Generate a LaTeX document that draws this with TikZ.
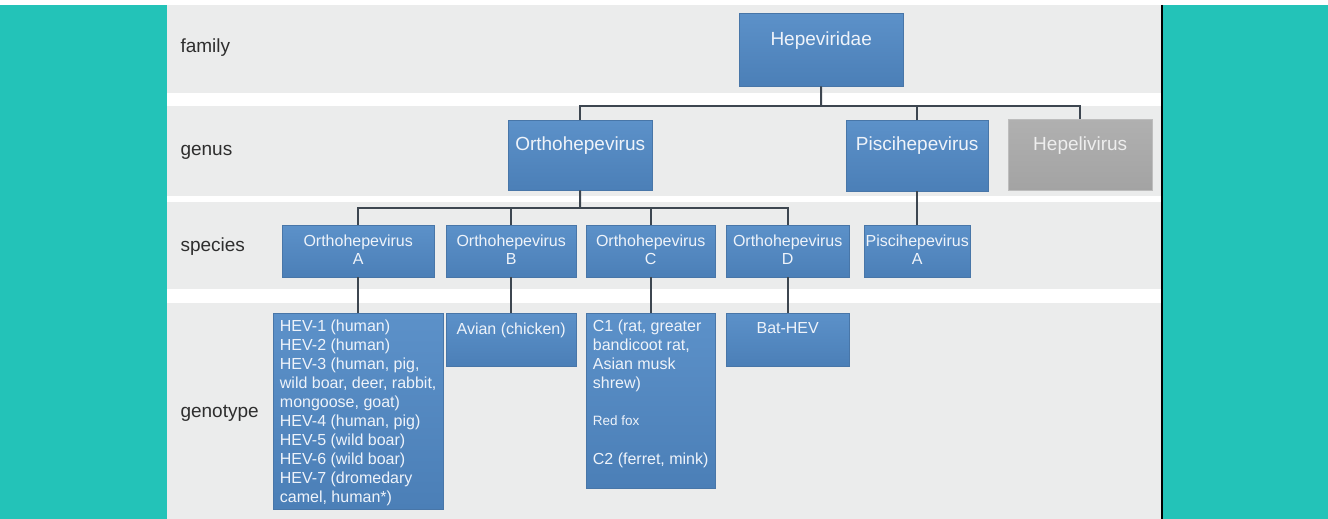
\documentclass[tikz,border=0pt]{standalone}
\usepackage{fontspec}
\setmainfont{Liberation Sans}
\usetikzlibrary{positioning}
\definecolor{TealSide}{HTML}{23C3B8}
\definecolor{BandGray}{HTML}{EBECEC}
\definecolor{BoxTop}{HTML}{5C91C9}
\definecolor{BoxBottom}{HTML}{4B7FB7}
\definecolor{BoxEdge}{HTML}{4876A8}
\definecolor{BoxText}{HTML}{EEF3FA}
\definecolor{GreyTop}{HTML}{B0B0B0}
\definecolor{GreyBottom}{HTML}{A3A3A3}
\definecolor{GreyEdge}{HTML}{BDBDBD}
\definecolor{GreyText}{HTML}{EEEEEE}
\definecolor{LinkGray}{HTML}{3D4650}
\definecolor{RankText}{HTML}{2E2E2E}

\begin{document}
\begin{tikzpicture}[x=1pt, y=-1pt,
  taxon/.style={draw=BoxEdge, top color=BoxTop, bottom color=BoxBottom, text=BoxText,
    inner xsep=1pt, inner ysep=0pt, anchor=north west, align=center},
  genusbox/.style={taxon, font=\fontsize{19}{22}\selectfont},
  greybox/.style={genusbox, draw=GreyEdge, top color=GreyTop, bottom color=GreyBottom, text=GreyText},
  speciesbox/.style={taxon, font=\fontsize{16}{18.5}\selectfont},
  typebox/.style={taxon, font=\fontsize{16}{19}\selectfont},
  % width, height, top to last baseline, last baseline to bottom
  boxsize/.style n args={4}{minimum width=#1pt, minimum height=#2pt, text height=#3pt, text depth=#4pt},
  rank/.style={anchor=west, text=RankText, font=\fontsize{19}{22}\selectfont},
  link/.style={draw=LinkGray, line width=2pt}
]
\useasboundingbox (0,0) rectangle (1328,519);
\fill[white] (0,0) rectangle (1328,519);
\fill[TealSide] (0,5) rectangle (167,519);
\fill[TealSide] (1163,5) rectangle (1328,519);
\draw[line width=2pt] (1162,5) -- (1162,519);

% rank bands
\foreach \ya/\yb in {5/93, 106/196, 202/289, 303/519}
  \fill[BandGray] (167,\ya) rectangle (1161,\yb);

\node[rank] (family) at (177,48) {family};
\node[rank] (genus) at (177,152) {genus};
\node[rank] (species) at (177,247) {species};
\node[rank] (genotype) at (177,413) {genotype};

% family and genera
\node[genusbox, boxsize={164}{73}{32}{41}] (hepeviridae) at (739,13) {Hepeviridae};
\node[genusbox, boxsize={144}{70}{30}{40}] (orthohepevirus) at (508,120) {Orthohepevirus};
\node[genusbox, boxsize={142}{71}{30}{41}] (piscihepevirus) at (846,120) {Piscihepevirus};
\node[greybox, boxsize={144}{71}{31}{40}] (hepelivirus) at (1008,119) {Hepelivirus};

% species
\node[speciesbox, boxsize={152}{52}{39.5}{12.5}] (orthoA) at (282,225) {Orthohepevirus\\A};
\node[speciesbox, boxsize={130}{52}{39.5}{12.5}] (orthoB) at (446,225) {Orthohepevirus\\B};
\node[speciesbox, boxsize={129}{52}{39.5}{12.5}] (orthoC) at (586,225) {Orthohepevirus\\C};
\node[speciesbox, boxsize={123}{52}{39.5}{12.5}] (orthoD) at (726,225) {Orthohepevirus\\D};
\node[speciesbox, boxsize={106}{52}{39.5}{12.5}] (pisciA) at (864,225) {Piscihepevirus\\A};

% genotypes
\node[typebox, align=left, boxsize={170}{196}{189}{7}] (typesA) at (273,313)
  {HEV-1 (human)\\HEV-2 (human)\\HEV-3 (human, pig,\\wild boar, deer, rabbit,\\mongoose, goat)\\HEV-4 (human, pig)\\HEV-5 (wild boar)\\HEV-6 (wild boar)\\HEV-7 (dromedary\\camel, human*)};
\node[typebox, boxsize={130}{53}{21}{32}] (typesB) at (446,313) {Avian (chicken)};
\node[typebox, align=left, boxsize={129}{175}{151}{24}] (typesC) at (586,313)
  {C1 (rat, greater\\bandicoot rat,\\Asian musk\\shrew)\\[18pt]{\fontsize{13.5}{19}\selectfont Red fox}\\[20pt]C2 (ferret, mink)};
\node[typebox, boxsize={123}{53}{20}{33}] (typesD) at (726,313) {Bat-HEV};

% connectors
\coordinate (genusbus) at (821,106);
\draw[link] (hepeviridae.south) -- (genusbus);
\foreach \g in {orthohepevirus, piscihepevirus, hepelivirus}
  \draw[link] (\g.north) |- (genusbus);
\coordinate (speciesbus) at (580,208);
\draw[link] (orthohepevirus.south) -- (speciesbus);
\foreach \s in {orthoA, orthoB, orthoC, orthoD}
  \draw[link] (\s.north) |- (speciesbus);
\draw[link] (piscihepevirus.south) -- (pisciA.north);
\draw[link] (orthoA.south) -- (typesA.north);
\draw[link] (orthoB.south) -- (typesB.north);
\draw[link] (orthoC.south) -- (typesC.north);
\draw[link] (orthoD.south) -- (typesD.north);
\end{tikzpicture}
\end{document}
